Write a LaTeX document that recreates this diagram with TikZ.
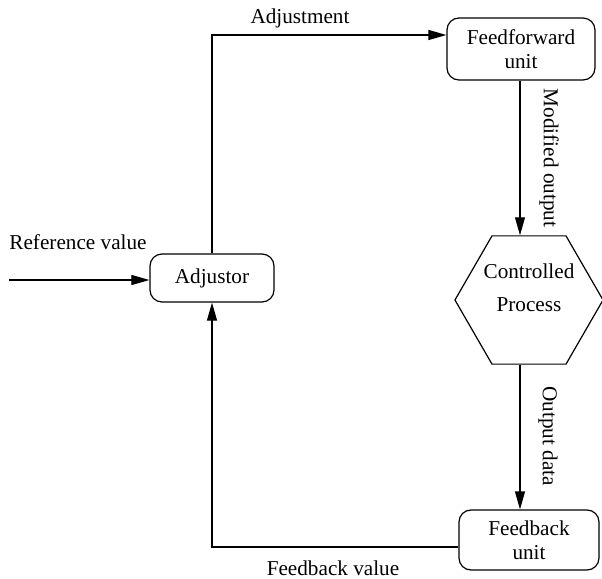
\documentclass[tikz,border=0pt]{standalone}
\usepackage{fontspec}
\setmainfont{Liberation Serif}
\usepackage{tikz}
\usetikzlibrary{shapes.geometric,arrows.meta}

\tikzset{
  unitbox/.style={draw, rounded corners=6pt, line width=0.6pt, align=center, inner sep=0pt},
  flow/.style={line width=0.6pt, -{Triangle[length=9pt,width=5pt]}},
  plain/.style={line width=0.6pt}
}

\begin{document}
\begin{tikzpicture}[x=0.5pt,y=-0.5pt,font=\fontsize{10.6}{12}\selectfont]
\useasboundingbox (0,0) rectangle (602,579);
\node[unitbox, minimum width=74pt, minimum height=31pt] (ff) at (521,49) {Feedforward\\unit};
\node[unitbox, minimum width=62pt, minimum height=24pt] (adj) at (212,278) {Adjustor};
\node[draw, regular polygon, regular polygon sides=6, minimum size=70pt, inner sep=0pt, line width=0.6pt, align=center] (proc) at (529,300) {Controlled\\[4.5pt]Process\\\mbox{}};
\node[unitbox, minimum width=70pt, minimum height=30pt] (fb) at (529,540) {Feedback\\unit};
\coordinate (ref) at (9,280);
\draw[flow] (ref) -- (ref -| adj.west);
\draw(78,242) node (reflab) {Reference value};
\draw[flow] (adj.north) |- ([yshift=7pt]ff.west);
\draw(300,18) node (adjlab) {Adjustment};
\draw[flow] (ff.south -| 520,0) -- (520,0 |- proc.north);
\draw(549,158) node[rotate=-90] (modlab) {Modified output};
\draw[flow] (proc.south -| 520,0) -- (520,0 |- fb.north);
\draw(548,436) node[rotate=-90] (outlab) {Output data};
\draw[flow] ([yshift=-3.5pt]fb.west) -| (adj.south);
\draw(333,568) node (fblab) {Feedback value};
\end{tikzpicture}
\end{document}
